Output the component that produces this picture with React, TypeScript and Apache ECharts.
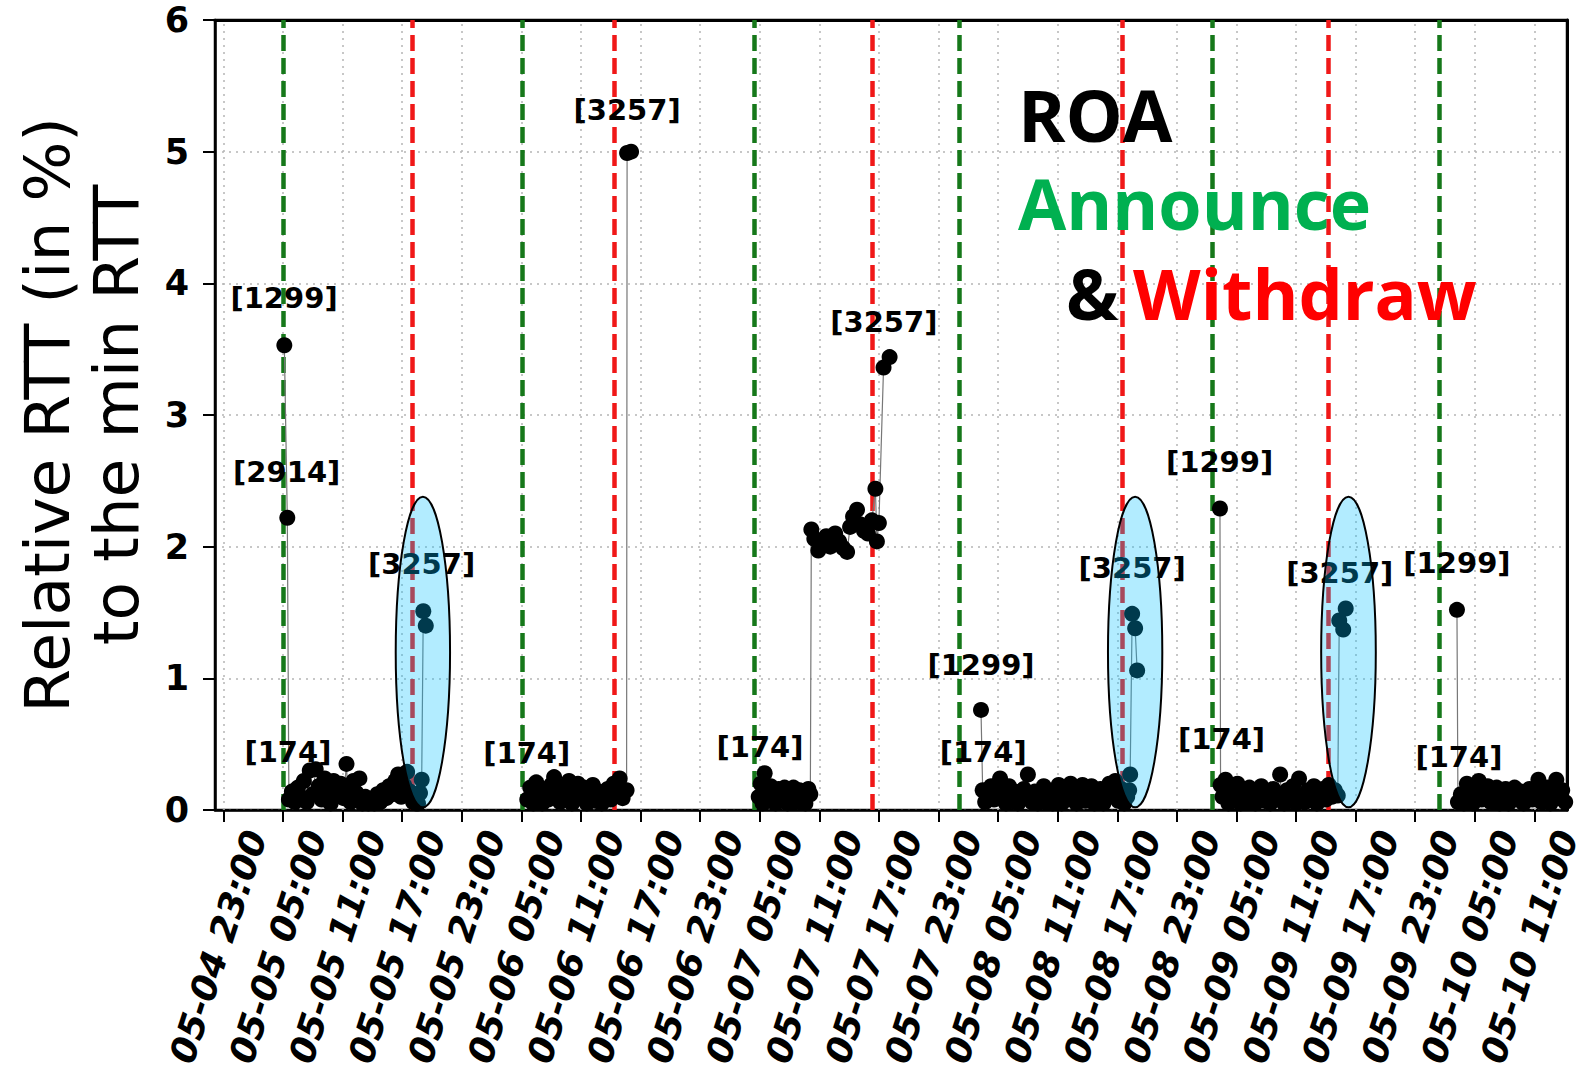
import React, { useEffect, useRef } from "react";
import * as echarts from "echarts";

// x values are hours since 05-04 00:00
const TICK_HOURS = [23, 29, 35, 41, 47, 53, 59, 65, 71, 77, 83, 89, 95, 101, 107, 113, 119, 125, 131, 137, 143, 149, 155];
const TICK_LABELS = [
  "05-04 23:00", "05-05 05:00", "05-05 11:00", "05-05 17:00", "05-05 23:00",
  "05-06 05:00", "05-06 11:00", "05-06 17:00", "05-06 23:00",
  "05-07 05:00", "05-07 11:00", "05-07 17:00", "05-07 23:00",
  "05-08 05:00", "05-08 11:00", "05-08 17:00", "05-08 23:00",
  "05-09 05:00", "05-09 11:00", "05-09 17:00", "05-09 23:00",
  "05-10 05:00", "05-10 11:00",
];
const Y_TICKS = [0, 1, 2, 3, 4, 5, 6];

const ANNOUNCE_HOURS = [29.0, 53.1, 76.5, 97.1, 122.6, 145.4];
const WITHDRAW_HOURS = [42.0, 62.4, 88.3, 113.5, 134.2];

const SEG1 = [
  [29.14, 3.53], [29.44, 2.22], [29.6, 0.08], [29.9, 0.14], [30.2, 0.06], [30.5, 0.17], [30.8, 0.10],
  [31.1, 0.22], [31.4, 0.06], [31.7, 0.30], [32.0, 0.12], [32.3, 0.31], [32.6, 0.18], [32.9, 0.08],
  [33.2, 0.24], [33.5, 0.15], [33.8, 0.05], [34.1, 0.22], [34.4, 0.12], [34.8, 0.20], [35.1, 0.09],
  [35.4, 0.35], [35.5, 0.16], [35.8, 0.06], [36.1, 0.22], [36.4, 0.13], [36.7, 0.24], [37.0, 0.05],
  [37.3, 0.10], [37.6, 0.05], [37.9, 0.08], [38.2, 0.05], [38.5, 0.12], [38.8, 0.06], [39.1, 0.15],
  [39.4, 0.09], [39.7, 0.18], [40.0, 0.12], [40.3, 0.22], [40.6, 0.27], [40.9, 0.10], [41.2, 0.19],
  [41.5, 0.29], [41.8, 0.14], [42.1, 0.06], [42.4, 0.05], [42.6, 0.05], [42.8, 0.13], [42.97, 0.23],
  [43.13, 1.51], [43.38, 1.40],
];
const SEG2 = [
  [53.6, 0.08], [53.9, 0.17], [54.2, 0.05], [54.5, 0.21], [54.8, 0.11], [55.1, 0.05], [55.4, 0.14],
  [55.7, 0.08], [56.0, 0.19], [56.3, 0.25], [56.6, 0.12], [56.9, 0.06], [57.2, 0.18], [57.5, 0.10],
  [57.8, 0.22], [58.1, 0.05], [58.4, 0.15], [58.7, 0.20], [59.0, 0.09], [59.3, 0.17], [59.6, 0.05],
  [59.9, 0.13], [60.2, 0.19], [60.5, 0.07], [60.8, 0.14], [61.1, 0.05], [61.4, 0.11], [61.7, 0.16],
  [62.0, 0.08], [62.3, 0.20], [62.6, 0.12], [62.9, 0.24], [63.2, 0.09], [63.6, 0.15], [63.65, 4.99],
  [64.05, 5.0],
];
const SEG3 = [
  [76.9, 0.10], [77.1, 0.20], [77.3, 0.05], [77.5, 0.28], [77.7, 0.13], [77.9, 0.07], [78.1, 0.18],
  [78.3, 0.10], [78.6, 0.05], [78.9, 0.16], [79.2, 0.09], [79.5, 0.17], [79.8, 0.05], [80.1, 0.12],
  [80.4, 0.17], [80.7, 0.06], [81.0, 0.15], [81.3, 0.10], [81.6, 0.05], [81.9, 0.16], [82.1, 0.12],
  [82.2, 2.13], [82.5, 2.06], [82.9, 1.97], [83.3, 2.03], [83.7, 2.08], [84.1, 2.00], [84.6, 2.10],
  [85.0, 2.04], [85.4, 1.99], [85.8, 1.96], [86.1, 2.15], [86.4, 2.23], [86.8, 2.28], [87.1, 2.17],
  [87.5, 2.12], [87.9, 2.10], [88.3, 2.20], [88.65, 2.44], [88.8, 2.04], [89.0, 2.18], [89.47, 3.36],
  [90.08, 3.44],
];
const SEG4 = [
  [99.28, 0.76], [99.45, 0.15], [99.7, 0.06], [100.0, 0.12], [100.3, 0.18], [100.6, 0.08], [100.9, 0.15],
  [101.2, 0.24], [101.5, 0.11], [101.8, 0.05], [102.1, 0.18], [102.4, 0.09], [102.7, 0.14], [103.0, 0.05],
  [103.3, 0.10], [103.6, 0.16], [104.0, 0.27], [104.1, 0.12], [104.4, 0.06], [104.7, 0.14], [105.0, 0.05],
  [105.3, 0.09], [105.6, 0.18], [105.9, 0.06], [106.2, 0.13], [106.5, 0.05], [106.8, 0.10], [107.1, 0.19],
  [107.4, 0.05], [107.7, 0.15], [108.0, 0.08], [108.3, 0.20], [108.6, 0.11], [108.9, 0.05], [109.2, 0.13],
  [109.5, 0.19], [109.8, 0.07], [110.1, 0.12], [110.4, 0.18], [110.7, 0.05], [111.0, 0.11], [111.3, 0.16],
  [111.6, 0.05], [111.9, 0.09], [112.2, 0.20], [112.5, 0.12], [112.8, 0.22], [113.1, 0.07], [113.4, 0.16],
  [113.7, 0.05], [114.0, 0.10], [114.2, 0.15], [114.3, 0.27], [114.5, 1.49], [114.8, 1.38], [115.0, 1.06],
];
const SEG5 = [
  [123.34, 2.29], [123.4, 0.19], [123.6, 0.10], [123.9, 0.23], [124.2, 0.05], [124.5, 0.15], [124.8, 0.08],
  [125.1, 0.20], [125.4, 0.05], [125.7, 0.12], [126.0, 0.06], [126.3, 0.17], [126.6, 0.09], [126.9, 0.05],
  [127.2, 0.14], [127.5, 0.18], [127.8, 0.07], [128.1, 0.12], [128.4, 0.05], [128.7, 0.16], [129.0, 0.09],
  [129.4, 0.27], [129.5, 0.12], [129.8, 0.05], [130.1, 0.15], [130.4, 0.08], [130.7, 0.18], [131.0, 0.05],
  [131.3, 0.24], [131.6, 0.11], [131.9, 0.06], [132.2, 0.15], [132.5, 0.09], [132.8, 0.18], [133.1, 0.05],
  [133.4, 0.12], [133.7, 0.16], [134.0, 0.08], [134.3, 0.19], [134.6, 0.10], [134.9, 0.15], [135.2, 0.11],
  [135.35, 1.44], [135.75, 1.37], [136.0, 1.53],
];
const SEG6 = [
  [147.2, 1.52], [147.3, 0.06], [147.6, 0.12], [147.9, 0.05], [148.2, 0.20], [148.5, 0.10], [148.8, 0.05],
  [149.1, 0.15], [149.4, 0.22], [149.7, 0.08], [150.0, 0.13], [150.3, 0.18], [150.6, 0.06], [150.9, 0.14],
  [151.2, 0.17], [151.5, 0.05], [151.8, 0.11], [152.1, 0.16], [152.4, 0.05], [152.7, 0.12], [153.0, 0.17],
  [153.3, 0.08], [153.6, 0.14], [153.9, 0.05], [154.2, 0.11], [154.5, 0.16], [154.8, 0.08], [155.1, 0.13],
  [155.4, 0.23], [155.7, 0.06], [156.0, 0.12], [156.3, 0.17], [156.6, 0.05], [156.9, 0.14], [157.2, 0.23],
  [157.5, 0.09], [157.8, 0.15], [158.1, 0.06],
];
const SEGMENTS = [SEG1, SEG2, SEG3, SEG4, SEG5, SEG6];

// annotation texts: [hour, value, text]
const ANNOTATIONS = [
  [29.11, 3.89, "[1299]"], [29.38, 2.57, "[2914]"], [29.5, 0.44, "[174]"], [42.96, 1.87, "[3257]"],
  [63.65, 5.32, "[3257]"], [53.55, 0.43, "[174]"], [77.03, 0.475, "[174]"], [89.5, 3.71, "[3257]"],
  [99.28, 1.10, "[1299]"], [99.5, 0.437, "[174]"], [114.5, 1.84, "[3257]"], [123.3, 2.64, "[1299]"],
  [123.5, 0.54, "[174]"], [135.4, 1.80, "[3257]"], [147.2, 1.875, "[1299]"], [147.4, 0.40, "[174]"],
];

// highlight ellipses: [centerHour, centerValue, widthHours, heightValue]
const ELLIPSES = [
  [43.09, 1.2, 5.47, 2.36],
  [114.8, 1.2, 5.47, 2.36],
  [136.28, 1.2, 5.5, 2.36],
];

const X_MIN = 22.16;
const X_MAX = 158.28;

export default function App() {
  const ref = useRef<HTMLDivElement>(null);

  useEffect(() => {
    if (!ref.current) return;
    const chart = echarts.init(ref.current, undefined, { renderer: "svg" });

    const dataSeries = SEGMENTS.map((seg) => ({
      type: "line",
      data: seg,
      z: 5,
      symbol: "circle",
      symbolSize: 16,
      showSymbol: true,
      itemStyle: { color: "#000" },
      lineStyle: { color: "#777", width: 1.2 },
      silent: true,
    }));

    const frameLine = { show: true, onZero: false, lineStyle: { color: "#000", width: 3 } };

    const option: any = {
      animation: false,
      grid: {
        left: 215,
        right: 29,
        top: 20,
        bottom: 269,
        show: true,
        borderColor: "#000",
        borderWidth: 2.5,
        backgroundColor: "#fff",
        containLabel: false,
        outerBoundsMode: "none",
      },
      xAxis: [
        {
          type: "value",
          min: X_MIN,
          max: X_MAX,
          axisLine: { show: true, onZero: false, lineStyle: { color: "#000", width: 2.5 } },
          axisTick: {
            show: true,
            customValues: TICK_HOURS,
            length: 12,
            inside: false,
            lineStyle: { color: "#000", width: 2 },
          },
          axisLabel: {
            customValues: TICK_HOURS,
            formatter: (v: number) => {
              const i = TICK_HOURS.findIndex((t) => Math.abs(t - v) < 1e-6);
              return i >= 0 ? TICK_LABELS[i] : "";
            },
            rotate: 72,
            fontSize: 36,
            fontWeight: "bold",
            fontStyle: "italic",
            fontFamily: "DejaVu Sans",
            color: "#000",
            align: "right",
            verticalAlign: "top",
            padding: [16, 0, 0, 0],
            margin: 11,
          },
          splitLine: { show: false },
        },
        {
          type: "value",
          position: "top",
          min: X_MIN,
          max: X_MAX,
          axisLine: frameLine,
          axisTick: { show: false },
          axisLabel: { show: false },
          splitLine: { show: false },
        },
      ],
      yAxis: [
        {
          type: "value",
          min: 0,
          max: 6,
          interval: 1,
          axisLine: { show: true, onZero: false, lineStyle: { color: "#000", width: 2.5 } },
          axisTick: { show: true, length: 12, lineStyle: { color: "#000", width: 2 } },
          axisLabel: {
            fontSize: 35,
            fontWeight: "bold",
            fontFamily: "DejaVu Sans",
            color: "#000",
            margin: 26,
            formatter: (v: number) => (Y_TICKS.includes(v) ? String(v) : ""),
          },
          splitLine: { show: true, lineStyle: { color: "#b5b5b5", type: [2, 5], width: 1.5 } },
          name: "Relative RTT (in %)\nto the min RTT",
          nameLocation: "middle",
          nameRotate: 90,
          nameGap: 64,
          nameTextStyle: { fontSize: 63, lineHeight: 69, fontFamily: "DejaVu Sans", color: "#000" },
        },
        {
          type: "value",
          position: "right",
          min: 0,
          max: 6,
          axisLine: frameLine,
          axisTick: { show: false },
          axisLabel: { show: false },
          splitLine: { show: false },
        },
      ],
      series: [
        {
          type: "line",
          data: [],
          z: 1,
          silent: true,
          markLine: {
            silent: true,
            symbol: ["none", "none"],
            label: { show: false },
            lineStyle: { color: "#b5b5b5", type: [2, 5], width: 1.5 },
            data: TICK_HOURS.map((t) => ({ xAxis: t })),
          },
        },
        {
          type: "line",
          data: [],
          z: 3,
          silent: true,
          markLine: {
            silent: true,
            symbol: ["none", "none"],
            label: { show: false },
            lineStyle: { color: "#16781a", type: [16, 7], width: 4.5 },
            data: ANNOUNCE_HOURS.map((t) => ({ xAxis: t })),
          },
        },
        {
          type: "line",
          data: [],
          z: 3,
          silent: true,
          markLine: {
            silent: true,
            symbol: ["none", "none"],
            label: { show: false },
            lineStyle: { color: "#f01818", type: [16, 7], width: 4.5 },
            data: WITHDRAW_HOURS.map((t) => ({ xAxis: t })),
          },
        },
        ...dataSeries,
        {
          type: "custom",
          z: 6,
          silent: true,
          data: ANNOTATIONS,
          encode: { x: 0, y: 1 },
          renderItem: (params: any, api: any) => {
            const p = api.coord([api.value(0), api.value(1)]);
            return {
              type: "text",
              x: p[0],
              y: p[1],
              style: {
                text: ANNOTATIONS[params.dataIndex][2],
                fontSize: 29,
                fontWeight: "bold",
                fontFamily: "DejaVu Sans",
                fill: "#000",
                align: "center",
                verticalAlign: "middle",
              },
            };
          },
        },
        {
          type: "custom",
          z: 8,
          silent: true,
          data: ELLIPSES,
          encode: { x: 0, y: 1 },
          renderItem: (params: any, api: any) => {
            const c = api.coord([api.value(0), api.value(1)]);
            const s = api.size([api.value(2), api.value(3)]);
            return {
              type: "ellipse",
              shape: { cx: c[0], cy: c[1], rx: s[0] / 2, ry: s[1] / 2 },
              style: { fill: "rgba(0,191,255,0.3)", stroke: "#000", lineWidth: 2 },
            };
          },
        },
      ],
      graphic: [
        {
          type: "text",
          z: 20,
          style: { text: "ROA", x: 1018, y: 114, fill: "#000", font: "bold 72px 'Open Sans'", verticalAlign: "middle" },
        },
        {
          type: "text",
          z: 20,
          style: { text: "Announce", x: 1018, y: 203, fill: "#00b050", font: "bold 70px 'Open Sans'", verticalAlign: "middle" },
        },
        {
          type: "text",
          z: 20,
          style: { text: "&", x: 1066, y: 293, fill: "#000", font: "bold 70px 'Open Sans'", verticalAlign: "middle" },
        },
        {
          type: "text",
          z: 20,
          style: { text: "Withdraw", x: 1133, y: 293, fill: "#ff0000", font: "bold 70px 'Open Sans'", verticalAlign: "middle" },
        },
      ],
    };

    chart.setOption(option);
    return () => chart.dispose();
  }, []);

  return (
    <div
      ref={ref}
      style={{ position: "absolute", left: 0, top: 0, width: 1596, height: 1079, background: "#fff" }}
    />
  );
}
